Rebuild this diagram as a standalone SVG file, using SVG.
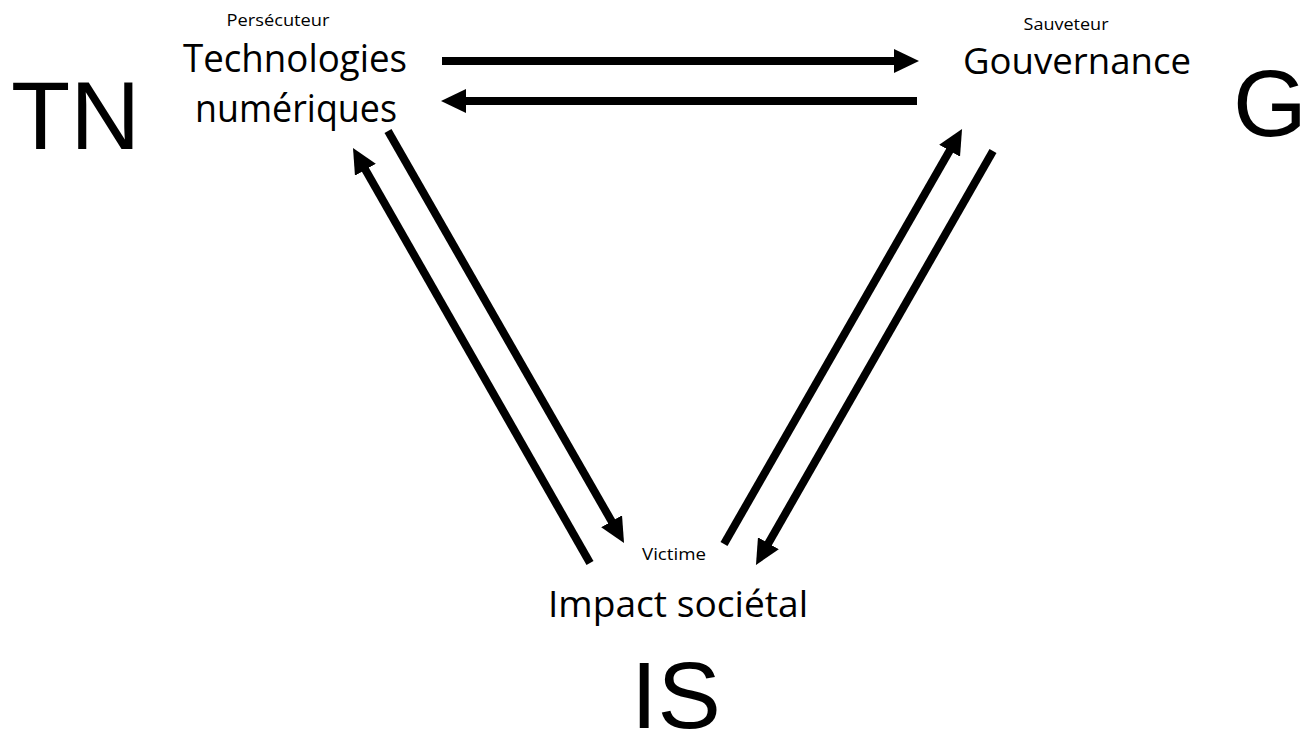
<svg xmlns="http://www.w3.org/2000/svg" width="1306" height="735" viewBox="0 0 1306 735">
<style>
.lbl{font-family:"Open Sans","Noto Sans",sans-serif;fill:#000;text-anchor:middle}
.big{font-size:38px}
.mid{font-size:36px}
.sm{font-size:16px}
.abbr{font-family:"Liberation Sans",Arial,sans-serif;fill:#000}
.con{stroke:#000;stroke-width:8;fill:none;stroke-linecap:butt}
</style>
<defs>
<marker id="ah" markerUnits="userSpaceOnUse" markerWidth="25" markerHeight="24" viewBox="0 0 25 24" refX="2" refY="12" orient="auto">
<path d="M0,0 L25,12 L0,24 z" fill="#000"/>
</marker>
</defs>
<rect width="1306" height="735" fill="#fff"/>
<g id="node-TN">
<text class="lbl sm" x="278" y="26" textLength="103" lengthAdjust="spacingAndGlyphs">Persécuteur</text>
<text class="lbl big" x="295" y="72" textLength="224" lengthAdjust="spacingAndGlyphs">Technologies</text>
<text class="lbl big" x="296" y="122" textLength="202" lengthAdjust="spacingAndGlyphs">numériques</text>
<text class="abbr" x="11" y="149" font-size="97">TN</text>
</g>
<g id="node-G">
<text class="lbl sm" x="1066" y="30" textLength="85" lengthAdjust="spacingAndGlyphs">Sauveteur</text>
<text class="lbl mid" x="1077" y="74" textLength="228" lengthAdjust="spacingAndGlyphs">Gouvernance</text>
<text class="abbr" x="1233" y="136" font-size="95">G</text>
</g>
<g id="node-IS">
<text class="lbl sm" x="674" y="560" textLength="64" lengthAdjust="spacingAndGlyphs">Victime</text>
<text class="lbl mid" x="678" y="617" textLength="260" lengthAdjust="spacingAndGlyphs">Impact sociétal</text>
<text class="abbr" x="631" y="728" font-size="95">IS</text>
</g>
<g id="connectors">
<line class="con" x1="442" y1="61" x2="896" y2="61" marker-end="url(#ah)"/>
<line class="con" x1="917" y1="101" x2="464" y2="101" marker-end="url(#ah)"/>
<line class="con" x1="388" y1="131" x2="612.6" y2="523" marker-end="url(#ah)"/>
<line class="con" x1="590" y1="563" x2="364.4" y2="168" marker-end="url(#ah)"/>
<line class="con" x1="724" y1="544" x2="950.6" y2="149" marker-end="url(#ah)"/>
<line class="con" x1="993" y1="151" x2="767.4" y2="545" marker-end="url(#ah)"/>
</g>
</svg>
